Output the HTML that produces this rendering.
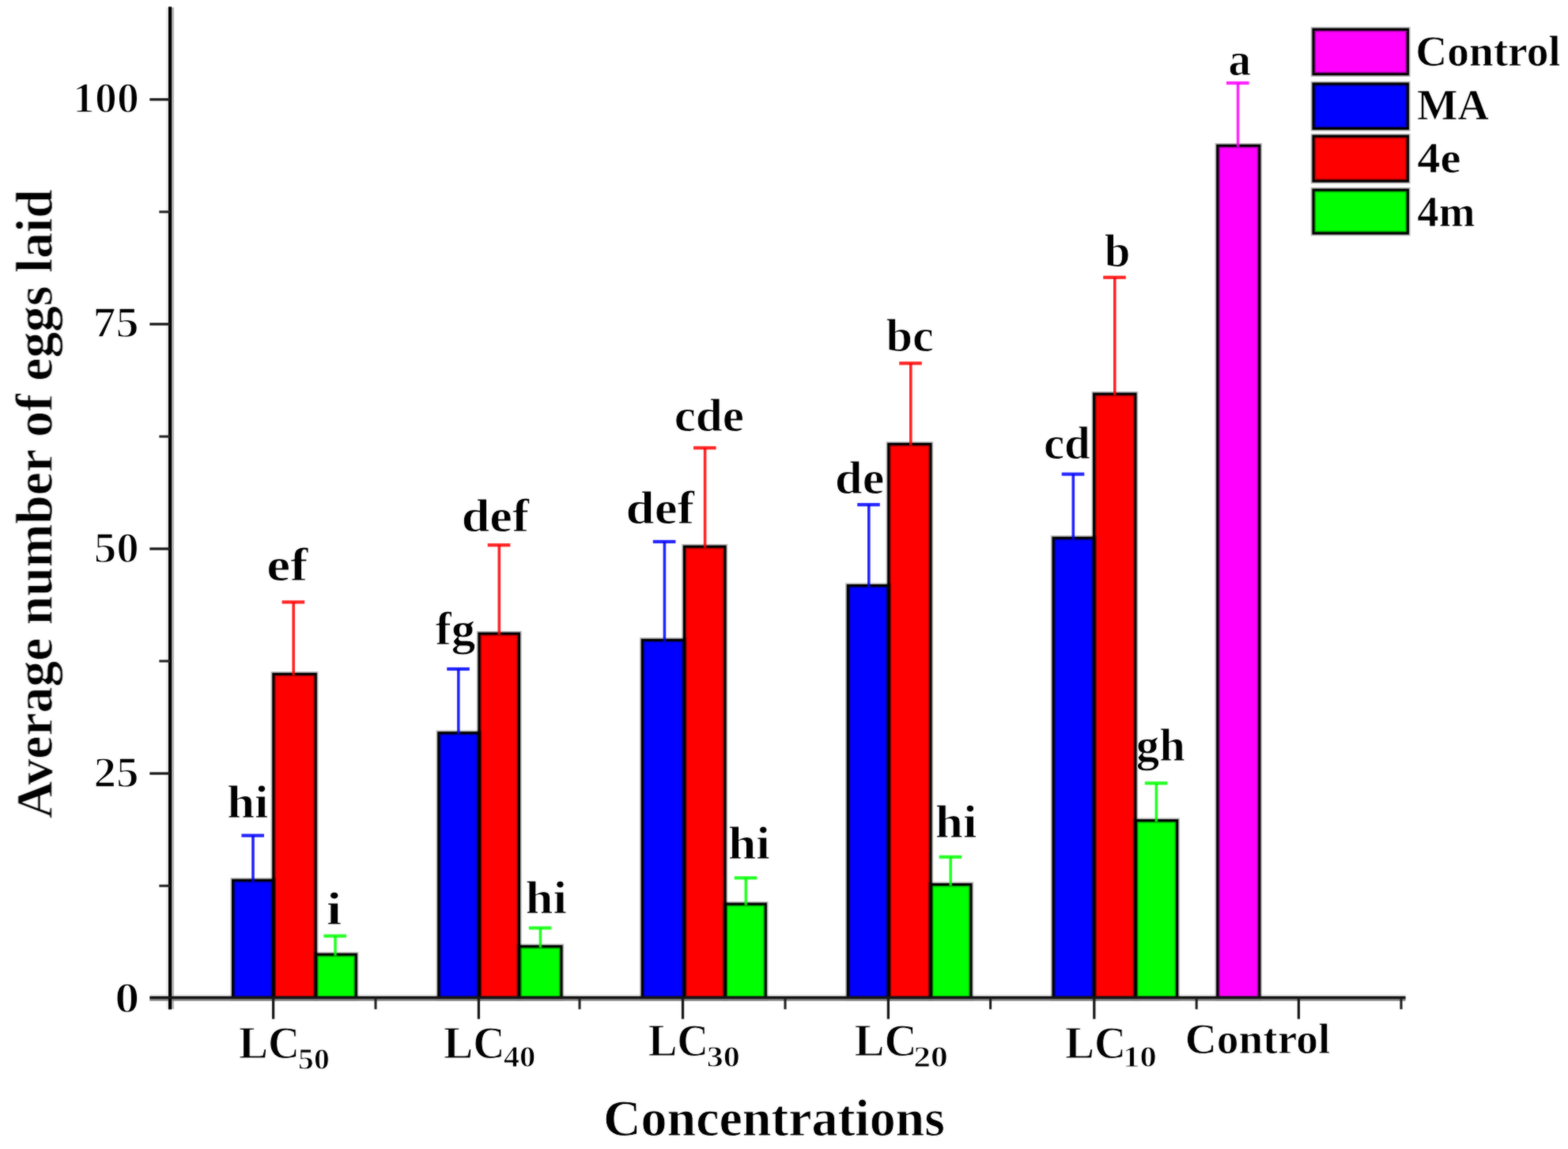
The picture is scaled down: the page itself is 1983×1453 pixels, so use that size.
<!DOCTYPE html>
<html lang="en">
<head>
<meta charset="utf-8">
<title>Average number of eggs laid vs. concentrations</title>
<style>
html,body{margin:0;padding:0;background:#fff;}
body{width:1983px;height:1453px;overflow:hidden;}
svg{display:block;}
text{white-space:pre;}
</style>
</head>
<body>
<svg width="1983" height="1453" viewBox="0 0 1983 1453" role="img" aria-label="Bar chart: average number of eggs laid at each concentration">
<rect x="0" y="0" width="1983" height="1453" fill="#fff"/>
<defs><filter id="soft" x="0" y="0" width="1983" height="1453" filterUnits="userSpaceOnUse" color-interpolation-filters="sRGB"><feGaussianBlur stdDeviation="1.0" result="b"/><feComposite in="SourceGraphic" in2="b" operator="arithmetic" k1="0" k2="0.55" k3="0.45" k4="0"/></filter></defs>
<g id="chart" filter="url(#soft)">
<path id="axis-halo" d="M189.3 1258.8H1777.6" stroke="#ececec" stroke-width="2.8" fill="none"/>
<g id="bars">
<g stroke="none">
<rect x="294.6" y="1113.2" width="51.2" height="149.4" fill="#0000ff"/>
<rect x="345.8" y="852.4" width="53.5" height="410.2" fill="#ff0000"/>
<rect x="399.3" y="1207.0" width="51.0" height="55.6" fill="#00ff00"/>
<rect x="554.8" y="926.8" width="51.2" height="335.8" fill="#0000ff"/>
<rect x="606.0" y="801.2" width="50.5" height="461.4" fill="#ff0000"/>
<rect x="656.5" y="1196.8" width="53.5" height="65.8" fill="#00ff00"/>
<rect x="812.3" y="809.4" width="53.1" height="453.2" fill="#0000ff"/>
<rect x="865.4" y="691.2" width="51.6" height="571.4" fill="#ff0000"/>
<rect x="917.0" y="1143.2" width="51.3" height="119.4" fill="#00ff00"/>
<rect x="1072.3" y="740.5" width="51.5" height="522.1" fill="#0000ff"/>
<rect x="1123.8" y="561.6" width="53.2" height="701.0" fill="#ff0000"/>
<rect x="1177.0" y="1118.5" width="51.0" height="144.1" fill="#00ff00"/>
<rect x="1332.1" y="680.3" width="51.5" height="582.3" fill="#0000ff"/>
<rect x="1383.6" y="498.2" width="52.4" height="764.4" fill="#ff0000"/>
<rect x="1436.0" y="1037.6" width="52.7" height="225.0" fill="#00ff00"/>
<rect x="1539.8" y="184.2" width="53.0" height="1078.4" fill="#ff00ff"/>
</g>
<g fill="none" stroke="#000" stroke-opacity="0.28" stroke-width="6.4">
<rect x="294.6" y="1113.2" width="51.2" height="149.4"/>
<rect x="345.8" y="852.4" width="53.5" height="410.2"/>
<rect x="399.3" y="1207.0" width="51.0" height="55.6"/>
<rect x="554.8" y="926.8" width="51.2" height="335.8"/>
<rect x="606.0" y="801.2" width="50.5" height="461.4"/>
<rect x="656.5" y="1196.8" width="53.5" height="65.8"/>
<rect x="812.3" y="809.4" width="53.1" height="453.2"/>
<rect x="865.4" y="691.2" width="51.6" height="571.4"/>
<rect x="917.0" y="1143.2" width="51.3" height="119.4"/>
<rect x="1072.3" y="740.5" width="51.5" height="522.1"/>
<rect x="1123.8" y="561.6" width="53.2" height="701.0"/>
<rect x="1177.0" y="1118.5" width="51.0" height="144.1"/>
<rect x="1332.1" y="680.3" width="51.5" height="582.3"/>
<rect x="1383.6" y="498.2" width="52.4" height="764.4"/>
<rect x="1436.0" y="1037.6" width="52.7" height="225.0"/>
<rect x="1539.8" y="184.2" width="53.0" height="1078.4"/>
</g>
<g fill="none" stroke="#000" stroke-width="3.1">
<rect x="294.6" y="1113.2" width="51.2" height="149.4"/>
<rect x="345.8" y="852.4" width="53.5" height="410.2"/>
<rect x="399.3" y="1207.0" width="51.0" height="55.6"/>
<rect x="554.8" y="926.8" width="51.2" height="335.8"/>
<rect x="606.0" y="801.2" width="50.5" height="461.4"/>
<rect x="656.5" y="1196.8" width="53.5" height="65.8"/>
<rect x="812.3" y="809.4" width="53.1" height="453.2"/>
<rect x="865.4" y="691.2" width="51.6" height="571.4"/>
<rect x="917.0" y="1143.2" width="51.3" height="119.4"/>
<rect x="1072.3" y="740.5" width="51.5" height="522.1"/>
<rect x="1123.8" y="561.6" width="53.2" height="701.0"/>
<rect x="1177.0" y="1118.5" width="51.0" height="144.1"/>
<rect x="1332.1" y="680.3" width="51.5" height="582.3"/>
<rect x="1383.6" y="498.2" width="52.4" height="764.4"/>
<rect x="1436.0" y="1037.6" width="52.7" height="225.0"/>
<rect x="1539.8" y="184.2" width="53.0" height="1078.4"/>
</g>
</g>
<g id="errorbars" fill="none" stroke-opacity="0.86">
<path d="M305.4 1056.6H334.0" stroke="#0000ff" stroke-width="4.2"/>
<path d="M320.0 1056.6V1114.7" stroke="#0000ff" stroke-width="3.6"/>
<path d="M356.6 761.4H385.2" stroke="#ff0000" stroke-width="4.2"/>
<path d="M371.2 761.4V853.9" stroke="#ff0000" stroke-width="3.6"/>
<path d="M409.4 1183.6H438.0" stroke="#00ff00" stroke-width="4.2"/>
<path d="M424.0 1183.6V1208.5" stroke="#00ff00" stroke-width="3.6"/>
<path d="M565.2 846.0H593.8" stroke="#0000ff" stroke-width="4.2"/>
<path d="M579.8 846.0V928.3" stroke="#0000ff" stroke-width="3.6"/>
<path d="M616.7 689.3H645.3" stroke="#ff0000" stroke-width="4.2"/>
<path d="M631.3 689.3V802.7" stroke="#ff0000" stroke-width="3.6"/>
<path d="M668.8 1173.5H697.4" stroke="#00ff00" stroke-width="4.2"/>
<path d="M683.4 1173.5V1198.3" stroke="#00ff00" stroke-width="3.6"/>
<path d="M825.8 685.0H854.4" stroke="#0000ff" stroke-width="4.2"/>
<path d="M840.4 685.0V810.9" stroke="#0000ff" stroke-width="3.6"/>
<path d="M877.0 566.4H905.6" stroke="#ff0000" stroke-width="4.2"/>
<path d="M891.6 566.4V692.7" stroke="#ff0000" stroke-width="3.6"/>
<path d="M928.7 1110.2H957.3" stroke="#00ff00" stroke-width="4.2"/>
<path d="M943.3 1110.2V1144.7" stroke="#00ff00" stroke-width="3.6"/>
<path d="M1084.2 638.2H1112.8" stroke="#0000ff" stroke-width="4.2"/>
<path d="M1098.8 638.2V742.0" stroke="#0000ff" stroke-width="3.6"/>
<path d="M1137.2 459.4H1165.8" stroke="#ff0000" stroke-width="4.2"/>
<path d="M1151.8 459.4V563.1" stroke="#ff0000" stroke-width="3.6"/>
<path d="M1187.6 1083.7H1216.2" stroke="#00ff00" stroke-width="4.2"/>
<path d="M1202.2 1083.7V1120.0" stroke="#00ff00" stroke-width="3.6"/>
<path d="M1342.7 599.6H1371.3" stroke="#0000ff" stroke-width="4.2"/>
<path d="M1357.3 599.6V681.8" stroke="#0000ff" stroke-width="3.6"/>
<path d="M1395.2 350.8H1423.8" stroke="#ff0000" stroke-width="4.2"/>
<path d="M1409.8 350.8V499.7" stroke="#ff0000" stroke-width="3.6"/>
<path d="M1447.8 990.4H1476.4" stroke="#00ff00" stroke-width="4.2"/>
<path d="M1462.4 990.4V1039.1" stroke="#00ff00" stroke-width="3.6"/>
<path d="M1551.0 105.0H1579.6" stroke="#ff00ff" stroke-width="4.2"/>
<path d="M1565.6 105.0V185.7" stroke="#ff00ff" stroke-width="3.6"/>
</g>
<g id="axes" stroke="#000" fill="none">
<path d="M211.9 9.5V1276" stroke="#e6e6e6" stroke-width="2.8"/>
<path d="M218.4 9.5V1276" stroke="#b0b0b0" stroke-width="3"/>
<path d="M189.3 1264.4H1777.6" stroke="#858585" stroke-width="2.8"/>
<path d="M215.05 8.6V1276.6" stroke="#000" stroke-width="4.1"/>
<path d="M189.3 1261.6H1777.6" stroke="#141414" stroke-width="3.5"/>
<g stroke-width="3.3" stroke="#1a1a1a">
<path d="M189.3 978.1H215"/>
<path d="M189.3 694.0H215"/>
<path d="M189.3 409.9H215"/>
<path d="M189.3 125.8H215"/>
<path d="M345.6 1262.6V1288.6"/>
<path d="M605.4 1262.6V1288.6"/>
<path d="M863.5 1262.6V1288.6"/>
<path d="M1123.4 1262.6V1288.6"/>
<path d="M1383.8 1262.6V1288.6"/>
<path d="M1642.4 1262.6V1288.6"/>
</g>
<g stroke-width="3.1" stroke="#222">
<path d="M201.3 1120.2H215"/>
<path d="M201.3 836.0H215"/>
<path d="M201.3 552.0H215"/>
<path d="M201.3 267.9H215"/>
<path d="M475.0 1262.6V1276.3"/>
<path d="M733.0 1262.6V1276.3"/>
<path d="M993.0 1262.6V1276.3"/>
<path d="M1252.6 1262.6V1276.3"/>
<path d="M1513.2 1262.6V1276.3"/>
<path d="M1772.0 1262.6V1276.3"/>
</g>
</g>
<g id="legend-swatches">
<rect x="1661.0" y="37.2" width="119.4" height="56.6" fill="#ff00ff"/>
<rect x="1661.0" y="106.0" width="119.4" height="56.6" fill="#0000ff"/>
<rect x="1661.0" y="172.2" width="119.4" height="56.8" fill="#ff0000"/>
<rect x="1661.0" y="240.2" width="119.4" height="54.8" fill="#00ff00"/>
<g fill="none" stroke="#000" stroke-opacity="0.28" stroke-width="6.4">
<rect x="1661.0" y="37.2" width="119.4" height="56.6"/>
<rect x="1661.0" y="106.0" width="119.4" height="56.6"/>
<rect x="1661.0" y="172.2" width="119.4" height="56.8"/>
<rect x="1661.0" y="240.2" width="119.4" height="54.8"/>
</g>
<g fill="none" stroke="#000" stroke-width="3.1">
<rect x="1661.0" y="37.2" width="119.4" height="56.6"/>
<rect x="1661.0" y="106.0" width="119.4" height="56.6"/>
<rect x="1661.0" y="172.2" width="119.4" height="56.8"/>
<rect x="1661.0" y="240.2" width="119.4" height="54.8"/>
</g>
</g>
<g id="labels" font-family="'Liberation Serif', 'DejaVu Serif', serif" font-weight="bold" fill="#000" stroke="#fff" stroke-width="0.9" stroke-linejoin="round">
<text transform="translate(92.10 142.10) scale(1.0145 1)" font-size="55" stroke-width="1.5">100</text>
<text transform="translate(117.44 426.40) scale(1.0595 1)" font-size="55" stroke-width="1.5">75</text>
<text transform="translate(118.75 710.50) scale(1.0382 1)" font-size="55" stroke-width="1.5">50</text>
<text transform="translate(118.58 994.90) scale(1.0382 1)" font-size="55" stroke-width="1.5">25</text>
<text transform="translate(145.15 1279.50) scale(1.1309 1)" font-size="55" stroke-width="1.5">0</text>
<text><tspan x="302.12" y="1337.80" font-size="56.5" stroke-width="1.0" textLength="77.02" lengthAdjust="spacingAndGlyphs">LC</tspan><tspan x="377.12" y="1351.80" font-size="37.5" stroke-width="0.9" textLength="39.59" lengthAdjust="spacingAndGlyphs">50</tspan></text>
<text><tspan x="561.11" y="1337.80" font-size="56.5" stroke-width="1.0" textLength="77.56" lengthAdjust="spacingAndGlyphs">LC</tspan><tspan x="636.66" y="1349.30" font-size="37.5" stroke-width="0.9" textLength="40.58" lengthAdjust="spacingAndGlyphs">40</tspan></text>
<text><tspan x="819.63" y="1334.70" font-size="56.5" stroke-width="1.0" textLength="76.48" lengthAdjust="spacingAndGlyphs">LC</tspan><tspan x="893.71" y="1348.80" font-size="37.5" stroke-width="0.9" textLength="41.99" lengthAdjust="spacingAndGlyphs">30</tspan></text>
<text><tspan x="1080.59" y="1334.70" font-size="56.5" stroke-width="1.0" textLength="79.17" lengthAdjust="spacingAndGlyphs">LC</tspan><tspan x="1155.26" y="1348.80" font-size="37.5" stroke-width="0.9" textLength="43.59" lengthAdjust="spacingAndGlyphs">20</tspan></text>
<text><tspan x="1347.12" y="1337.80" font-size="56.5" stroke-width="1.0" textLength="77.02" lengthAdjust="spacingAndGlyphs">LC</tspan><tspan x="1420.30" y="1349.30" font-size="37.5" stroke-width="0.9" textLength="42.51" lengthAdjust="spacingAndGlyphs">10</tspan></text>
<text transform="translate(1498.79 1332.40) scale(1.0158 1)" font-size="54.5" stroke-width="0.8">Control</text>
<text transform="translate(762.99 1435.80) scale(1.0137 1)" font-size="65" stroke-width="0.8">Concentrations</text>
<text transform="translate(65.6 1035.07) rotate(-90) scale(1.0098 1)" font-size="65" stroke-width="0.8">Average number of eggs laid</text>
<text transform="translate(287.23 1034.40) scale(1.0448 1)" font-size="60">hi</text>
<text transform="translate(337.16 733.60) scale(1.1203 1)" font-size="60">ef</text>
<text transform="translate(412.84 1169.20) scale(1.1724 1)" font-size="60">i</text>
<text transform="translate(550.49 815.40) scale(1.0137 1)" font-size="60">fg</text>
<text transform="translate(583.63 671.60) scale(1.0692 1)" font-size="60">def</text>
<text transform="translate(664.43 1155.20) scale(1.0490 1)" font-size="60">hi</text>
<text transform="translate(791.49 662.00) scale(1.0833 1)" font-size="60">def</text>
<text transform="translate(852.66 545.20) scale(1.0193 1)" font-size="60">cde</text>
<text transform="translate(921.01 1086.00) scale(1.0573 1)" font-size="60">hi</text>
<text transform="translate(1056.10 623.80) scale(1.0388 1)" font-size="60">de</text>
<text transform="translate(1120.46 443.70) scale(1.0058 1)" font-size="60">bc</text>
<text transform="translate(1182.82 1059.40) scale(1.0531 1)" font-size="60">hi</text>
<text transform="translate(1319.94 580.40) scale(0.9820 1)" font-size="60">cd</text>
<text transform="translate(1396.68 337.00) scale(0.9812 1)" font-size="60">b</text>
<text transform="translate(1436.87 961.80) scale(0.9781 1)" font-size="60">gh</text>
<text transform="translate(1553.49 94.80) scale(0.9534 1)" font-size="60">a</text>
<text transform="translate(1790.29 83.40) scale(1.0153 1)" font-size="54.5" stroke-width="0.7">Control</text>
<text transform="translate(1792.00 151.40) scale(1.0022 1)" font-size="54.5" stroke-width="0.7">MA</text>
<text transform="translate(1792.28 217.80) scale(1.0747 1)" font-size="54.5" stroke-width="0.7">4e</text>
<text transform="translate(1792.33 285.80) scale(1.0075 1)" font-size="54.5" stroke-width="0.7">4m</text>
</g>
</g>
</svg>
</body>
</html>
